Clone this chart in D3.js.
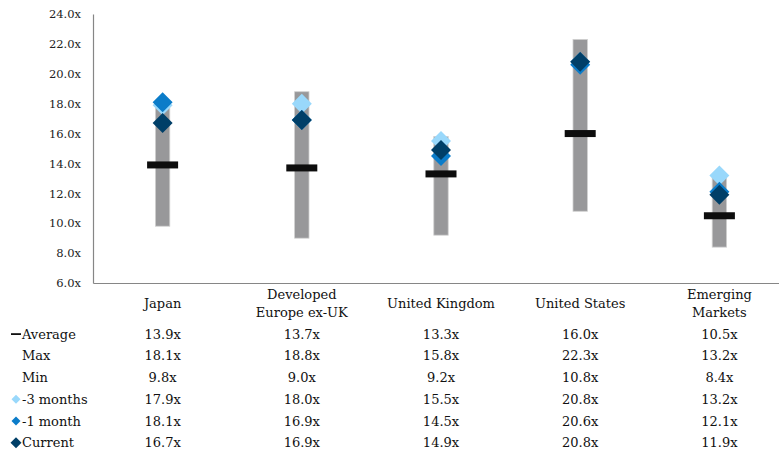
<!DOCTYPE html>
<html>
<head>
<meta charset="utf-8">
<script src="https://cdn.jsdelivr.net/npm/d3@7"></script>
<style>
  html, body { margin: 0; padding: 0; background: #fff; }
  svg { display: block; font-family: "DejaVu Serif", serif; }
</style>
</head>
<body>
<svg id="chart" width="779" height="453"></svg>
<script>
// Forward P/E by region: historical range, average and recent readings
const categories = [["Japan"], ["Developed", "Europe ex-UK"], ["United Kingdom"], ["United States"], ["Emerging", "Markets"]];
const average   = [13.9, 13.7, 13.3, 16.0, 10.5];
const maxVals   = [18.1, 18.8, 15.8, 22.3, 13.2];
const minVals   = [9.8, 9.0, 9.2, 10.8, 8.4];
const months3   = [17.9, 18.0, 15.5, 20.8, 13.2];
const month1    = [18.1, 16.9, 14.5, 20.6, 12.1];
const current   = [16.7, 16.9, 14.9, 20.8, 11.9];
const yTicks    = [6, 8, 10, 12, 14, 16, 18, 20, 22, 24];

const svg = d3.select("#chart");
const fmt = v => v.toFixed(1) + "x";

const x = d3.scaleBand().domain(d3.range(categories.length)).range([93, 789]);
const y = d3.scaleLinear().domain([6, 24]).range([283, 14]);
const cx = i => x(i) + x.bandwidth() / 2;

// y axis
const yAxis = d3.axisLeft(y).tickValues(yTicks).tickFormat(fmt).tickSize(0).tickPadding(12);
const gy = svg.append("g").attr("transform", "translate(93,0)").call(yAxis);
gy.select(".domain").attr("stroke", "#868686").attr("stroke-width", 1.2);
gy.selectAll("text").attr("font-family", "DejaVu Serif").attr("font-size", 11.5).attr("fill", "#222");

// x axis baseline
const xAxis = d3.axisBottom(x).tickSize(0).tickFormat("");
const gx = svg.append("g").attr("transform", "translate(0,283)").call(xAxis);
gx.select(".domain").attr("stroke", "#868686").attr("stroke-width", 1.2);

// min-max range bars
svg.append("g").selectAll("rect").data(categories).join("rect")
  .attr("x", (d, i) => cx(i) - 7.2)
  .attr("width", 14.4)
  .attr("y", (d, i) => y(maxVals[i]))
  .attr("height", (d, i) => y(minVals[i]) - y(maxVals[i]))
  .attr("fill", "#98989a")
  .attr("stroke", "#d0d0d0")
  .attr("stroke-width", 0.8);

// average markers
svg.append("g").selectAll("rect").data(average).join("rect")
  .attr("x", (d, i) => cx(i) - 15.5)
  .attr("width", 31)
  .attr("y", d => y(d) - 3.5)
  .attr("height", 7)
  .attr("fill", "#0d0d0d");

const diamond = (r) => `M0,${-r}L${r},0L0,${r}L${-r},0Z`;
const series = [
  { name: "-3 months", values: months3, color: "#99d8fb" },
  { name: "-1 month",  values: month1,  color: "#0b7cc9" },
  { name: "Current",   values: current, color: "#003f68" }
];

series.forEach(s => {
  svg.append("g").selectAll("path").data(s.values).join("path")
    .attr("d", diamond(10))
    .attr("transform", (d, i) => `translate(${cx(i)},${y(d)})`)
    .attr("fill", s.color);
});

// category labels
const catG = svg.append("g").attr("font-size", 13).attr("fill", "#111").attr("text-anchor", "middle");
categories.forEach((lines, i) => {
  const t = catG.append("text").attr("x", cx(i));
  const startY = lines.length === 1 ? 308 : 299;
  lines.forEach((ln, j) => {
    t.append("tspan").attr("x", cx(i)).attr("y", startY + j * 18).text(ln);
  });
});

// data table
const rows = [
  { label: "Average",   values: average, icon: "dash" },
  { label: "Max",       values: maxVals, icon: null },
  { label: "Min",       values: minVals, icon: null },
  { label: "-3 months", values: months3, icon: series[0].color },
  { label: "-1 month",  values: month1,  icon: series[1].color },
  { label: "Current",   values: current, icon: series[2].color }
];
const rowY = d3.scaleLinear().domain([0, 5]).range([334, 442.7]);
const tbl = svg.append("g").attr("font-size", 13).attr("fill", "#111");
rows.forEach((r, k) => {
  const yy = rowY(k);
  tbl.append("text").attr("x", 22).attr("y", yy + 4.6).text(r.label);
  if (r.icon === "dash") {
    tbl.append("rect").attr("x", 11).attr("y", yy - 0.8).attr("width", 10).attr("height", 1.8).attr("fill", "#111");
  } else if (r.icon) {
    const rr = k === 5 ? 5.5 : 4.5;
    tbl.append("path").attr("d", diamond(rr)).attr("transform", `translate(16,${yy})`).attr("fill", r.icon);
  }
  r.values.forEach((v, i) => {
    tbl.append("text").attr("x", cx(i)).attr("y", yy + 4.6).attr("text-anchor", "middle").text(fmt(v));
  });
});
</script>
</body>
</html>
